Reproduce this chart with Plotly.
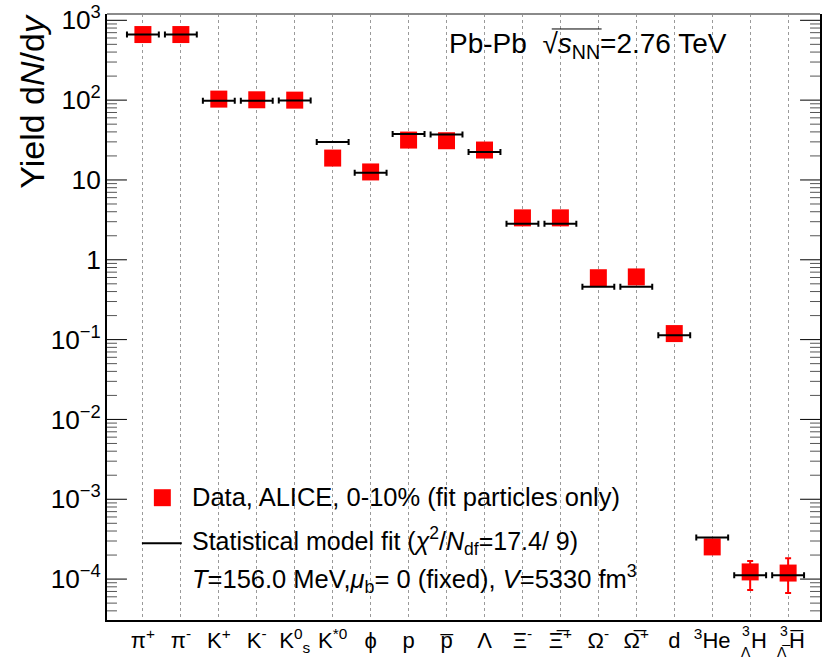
import math
import plotly.graph_objects as go

# Particle species (x categories); the two hypertriton labels are built
# from stacked pieces further down, so their tick text stays empty
particles = [
    "π<sup>+</sup>", "π<sup>-</sup>", "K<sup>+</sup>", "K<sup>-</sup>",
    "K<sup>0</sup><sub>s</sub>", "K<sup>*0</sup>", "ϕ", "p", "p\u0305", "Λ",
    "Ξ<sup>-</sup>", "Ξ\u0305<sup>+</sup>", "Ω<sup>-</sup>", "Ω\u0305<sup>+</sup>",
    "d", "<sup>3</sup>He", "", "",
]
# stacked labels: (category index, superscript, subscript, base)
stacked_labels = [
    (16, "3", "Λ", "H"),
    (17, "3", "Λ\u0305", "H\u0305"),
]

# Measured yields dN/dy, Pb-Pb 0-10%
data_yield = [663, 663, 103, 101, 100, 18.8, 12.6, 31.6, 31.0, 23.7,
              3.35, 3.35, 0.596, 0.61, 0.119, 2.53e-4, 1.23e-4, 1.19e-4]
# Uncertainties (only visible for the light nuclei)
data_err_up = [0, 0, 0, 0, 0, 0, 0, 0, 0, 0, 0, 0, 0, 0, 0, 0.15e-4, 0.46e-4, 0.64e-4]
data_err_dn = [0, 0, 0, 0, 0, 0, 0, 0, 0, 0, 0, 0, 0, 0, 0, 0.12e-4, 0.50e-4, 0.52e-4]

# Statistical hadronisation model fit
fit_yield = [663, 663, 98, 98, 99, 29.9, 12.3, 37.6, 37.0, 22.4,
             2.82, 2.82, 0.46, 0.46, 0.113, 3.32e-4, 1.12e-4, 1.12e-4]

# log-axis decades and the 2..9 minor divisions inside them
major_tickvals = [10.0 ** d for d in range(-4, 4)]
minor_tickvals = [m * 10.0 ** d for d in range(-5, 3) for m in range(2, 10)]

W, H = 823, 669
L, R, T, B = 107, 822, 13, 620
X_RANGE = [-0.946, 17.84]
Y_RANGE = [-4.5125, 3.079]
FONT = "Liberation Sans, Arial, Helvetica, sans-serif"


def px(xp):
    return (xp - L) / (R - L)


def py(yp):
    return (B - yp) / (B - T)


def y_frac(v):
    """Fractional height of value v on the log y axis."""
    return (math.log10(v) - Y_RANGE[0]) / (Y_RANGE[1] - Y_RANGE[0])


xs = list(range(len(particles)))

fig = go.Figure()

fig.add_trace(go.Scatter(
    x=xs, y=data_yield, mode="markers",
    marker=dict(symbol="square", size=17, color="#ff0000"),
    error_y=dict(type="data", array=data_err_up, arrayminus=data_err_dn,
                 color="#ff0000", thickness=2, width=3),
    showlegend=False, hoverinfo="skip",
))

fig.add_trace(go.Scatter(
    x=xs, y=fit_yield, mode="markers",
    marker=dict(size=2, color="rgba(0,0,0,0)"),
    error_x=dict(type="constant", value=0.42, color="black", thickness=2, width=3),
    showlegend=False, hoverinfo="skip",
))

fig.update_layout(
    xaxis=dict(
        range=X_RANGE, tickvals=xs, ticktext=particles,
        showgrid=True, gridcolor="#9a9a9a", griddash="dot", gridwidth=1,
        ticks="", showline=True, linecolor="black", linewidth=2, mirror=False,
        tickfont=dict(family=FONT, size=22, color="black"), zeroline=False,
    ),
    yaxis=dict(
        type="log", range=Y_RANGE, tickmode="linear", tick0=0, dtick=1,
        exponentformat="power", showexponent="all", ticks="",
        showgrid=False, showline=True, linecolor="black", linewidth=2, mirror=True,
        tickfont=dict(family=FONT, size=21, color="black"), zeroline=False,
    ),
)

annotations = [
    dict(text="Yield d<i>N</i>/d<i>y</i>", textangle=-90, x=px(31), y=py(11),
         xanchor="center", yanchor="top", font=dict(size=34)),
    dict(text="Pb-Pb  √<i>s</i><sub>NN</sub>=2.76 TeV", x=px(448), y=py(45),
         xanchor="left", yanchor="middle", font=dict(size=28)),
    dict(text="Data, ALICE, 0-10% (fit particles only)", x=px(190), y=py(497),
         xanchor="left", yanchor="middle", font=dict(size=25.5)),
    dict(text="Statistical model fit (<i>χ</i><sup>2</sup>/<i>N</i><sub>df</sub>=17.4/ 9)",
         x=px(190), y=py(541), xanchor="left", yanchor="middle", font=dict(size=25)),
    dict(text="<i>T</i>=156.0 MeV,<i>μ</i><sub>b</sub>= 0 (fixed), <i>V</i>=5330 fm<sup>3</sup>",
         x=px(190), y=py(579), xanchor="left", yanchor="middle", font=dict(size=25.5)),
]
for a in annotations:
    a.update(xref="paper", yref="paper")

# stacked superscript/subscript category labels below the axis
for idx, sup, sub, base in stacked_labels:
    annotations += [
        dict(text=base, x=idx, xref="x", xshift=9, y=py(641), yref="paper",
             xanchor="center", yanchor="middle", font=dict(size=22)),
        dict(text=sup, x=idx, xref="x", xshift=-4, y=py(631), yref="paper",
             xanchor="center", yanchor="middle", font=dict(size=14)),
        dict(text=sub, x=idx, xref="x", xshift=-4, y=py(652), yref="paper",
             xanchor="center", yanchor="middle", font=dict(size=14)),
    ]

for a in annotations:
    a.update(showarrow=False)
    a["font"].update(family=FONT, color="black")

shapes = [
    # top frame
    dict(type="line", xref="paper", yref="paper", x0=0, x1=1, y0=1, y1=1,
         line=dict(color="#8a8a8a", width=2)),
    # radical bar over s_NN
    dict(type="line", xref="paper", yref="paper", x0=px(553), x1=px(603),
         y0=py(28), y1=py(28), line=dict(color="black", width=1)),
    # legend glyphs
    dict(type="rect", xref="paper", yref="paper", x0=px(154), x1=px(171),
         y0=py(506), y1=py(489), line=dict(width=0), fillcolor="#ff0000"),
    dict(type="line", xref="paper", yref="paper", x0=px(142), x1=px(182),
         y0=py(543), y1=py(543), line=dict(color="black", width=2)),
]

# ROOT-style frame ticks pointing into the plot on both vertical edges
for vals, length, colour in ((major_tickvals, 20, "black"),
                             (minor_tickvals, 10, "#555555")):
    for v in vals:
        f = y_frac(v)
        if not 0 <= f <= 1:
            continue
        for x0, x1 in ((0, length / (R - L)), (1 - length / (R - L), 1)):
            shapes.append(dict(type="line", xref="paper", yref="paper",
                               x0=x0, x1=x1, y0=f, y1=f,
                               line=dict(color=colour, width=1)))

fig.update_layout(
    width=W, height=H, margin=dict(l=L, r=W - R, t=T, b=H - B),
    paper_bgcolor="white", plot_bgcolor="white",
    font=dict(family=FONT, color="black"),
    annotations=annotations, shapes=shapes, showlegend=False,
)

fig.write_html("out.html")
